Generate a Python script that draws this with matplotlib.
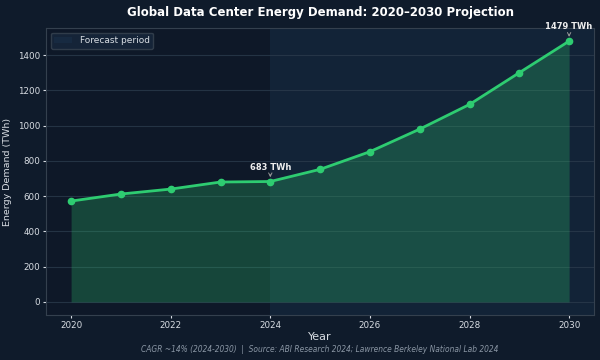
import matplotlib
matplotlib.use("Agg")
import matplotlib.pyplot as plt

years = [2020, 2021, 2022, 2023, 2024, 2025, 2026, 2027, 2028, 2029, 2030]
demand = [572, 612, 640, 680, 683, 752, 852, 980, 1120, 1300, 1479]
title = "Global Data Center Energy Demand: 2020\u20132030 Projection"
footer = "CAGR ~14% (2024-2030)  |  Source: ABI Research 2024; Lawrence Berkeley National Lab 2024"

BG = "#0f1b2b"
AX = "#0e1828"
GREEN = "#2ecc71"
TXT = "#d8dde3"

fig = plt.figure(figsize=(6, 3.6), dpi=100, facecolor=BG)
ax = fig.add_axes([0.077, 0.125, 0.913, 0.797])
ax.set_facecolor(AX)

ax.axvspan(2024, 2030.5, color="#1b3550", alpha=0.38, lw=0, label="Forecast period", zorder=0)
ax.fill_between(years, demand, 0, color=GREEN, alpha=0.26, lw=0, zorder=1)
ax.plot(years, demand, color=GREEN, lw=2, marker="o", ms=4.5, zorder=3)

ax.set_xlim(2019.5, 2030.5)
ax.set_xticks([2020, 2022, 2024, 2026, 2028, 2030])
ax.set_yticks(range(0, 1401, 200))
ax.grid(axis="y", color="#2a3a4c", lw=0.8, alpha=0.8)
ax.set_axisbelow(True)

for s in ax.spines.values():
    s.set_color("#34404e")
ax.tick_params(colors=TXT, labelsize=6.3, length=2.5, pad=2)
ax.set_xlabel("Year", color=TXT, fontsize=8, labelpad=1.5)
ax.set_ylabel("Energy Demand (TWh)", color=TXT, fontsize=6.8, labelpad=4)

for yr in (2024, 2030):
    v = demand[years.index(yr)]
    ax.annotate(f"{v} TWh", xy=(yr, v), xytext=(0, 7), textcoords="offset points",
                ha="center", va="bottom", color="#eeeeee", fontsize=6, fontweight="bold",
                arrowprops=dict(arrowstyle="->", color="#999999", lw=0.7, shrinkA=0, shrinkB=3))

leg = ax.legend(loc="upper left", fontsize=6.5, facecolor="#16263a", edgecolor="#34404e",
                labelcolor=TXT, framealpha=0.9)

ax.set_title(title, color="white", fontsize=8.5, fontweight="bold", pad=9)
fig.text(0.5333, 0.03, footer, ha="center", va="center", color="#8a96a4", fontsize=5.45, style="italic")

fig.savefig("out.png", dpi=100, facecolor=BG)
